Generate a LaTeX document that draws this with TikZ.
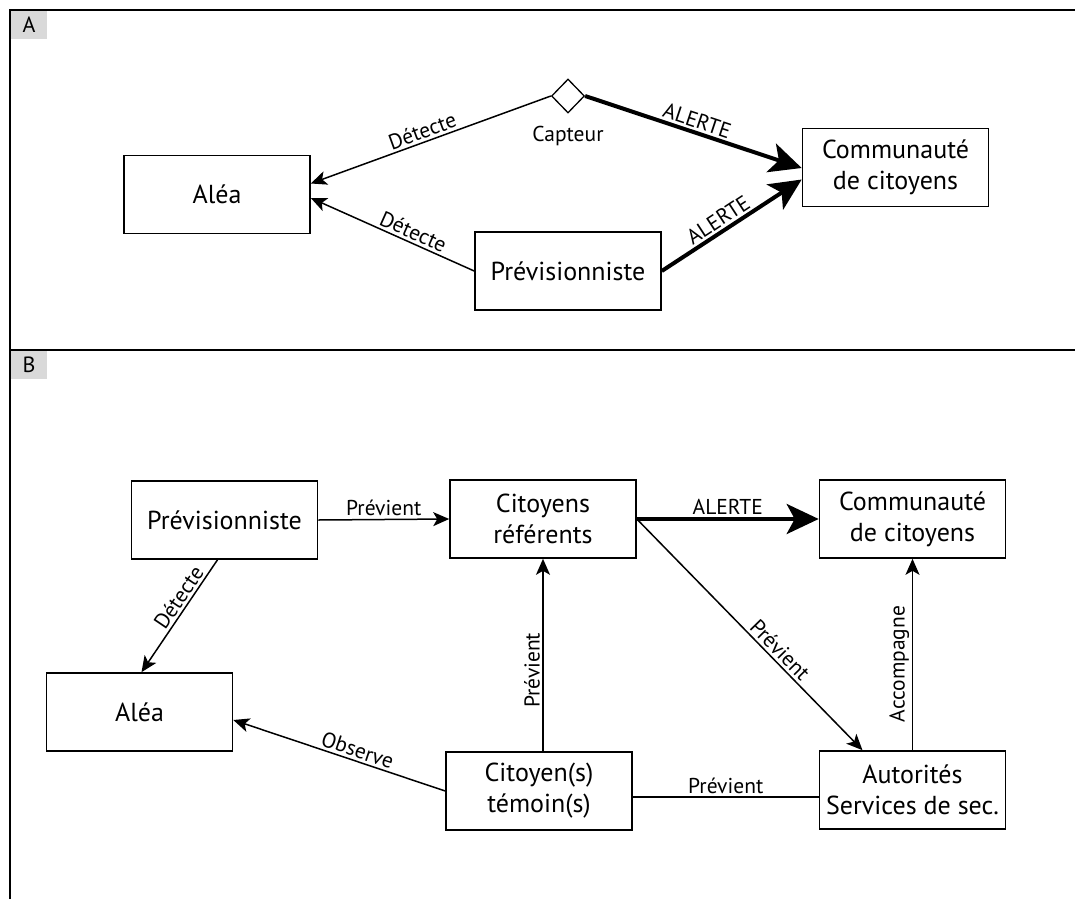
\documentclass[tikz,border=0pt]{standalone}
\usepackage{fontspec}
\setmainfont{PT Sans}
\usetikzlibrary{arrows.meta,shapes.geometric,calc}
\begin{document}
\begin{tikzpicture}[x=1pt,y=-1pt,
 box/.style={draw,line width=1.6pt,minimum width=186pt,minimum height=78pt,inner sep=0pt,align=center,font=\fontsize{26}{31}\selectfont},
 lab/.style={font=\fontsize{21.5}{24}\selectfont,inner sep=2.5pt},
 arr/.style={line width=1.5pt,-{Stealth[length=16pt,width=14pt,inset=4pt]}},
 bigarr/.style={line width=4pt,-{Stealth[length=32pt,width=30pt,inset=8pt]}},
 plainline/.style={line width=1.5pt},
 frameline/.style={line width=2pt},
 tag/.style={fill=black!15,minimum width=36pt,minimum height=28pt,inner sep=0pt,font=\fontsize{22}{24}\selectfont}]
\useasboundingbox (0,0) rectangle (1075,899);

% frame
\draw[frameline] (10,899) -- (10,10) -- (1075,10);
\draw[frameline] (10,350) -- (1075,350);
\node[tag] (tagA) at (29,25) {A};
\node[tag] (tagB) at (29,365) {B};

% Panel A
\node[box] (aleaA) at (217,194.5) {Aléa};
\node[box] (prevA) at (568,271) {Prévisionniste};
\node[box] (commA) at (895.5,167.5) {Communauté\\de citoyens};
\node[draw,diamond,line width=1.3pt,minimum width=33pt,minimum height=34pt,inner sep=0pt] (capt) at (568,96) {};
\node[lab] (captlab) at (568,136) {Capteur};

\draw[arr] (capt.west) -- ($(aleaA.east)+(0,-11)$) node[lab,pos=0.52,sloped,above] {Détecte};
\draw[arr] (prevA.west) -- ($(aleaA.east)+(0,3.5)$) node[lab,pos=0.4,sloped,above] {Détecte};
\draw[bigarr] (capt.east) -- ($(commA.west)+(0,0.5)$) node[lab,pos=0.5,sloped,above] {ALERTE};
\draw[bigarr] (prevA.east) -- ($(commA.west)+(0,12)$) node[lab,pos=0.45,sloped,above] {ALERTE};

% Panel B
\node[box] (prevB) at (224.5,520) {Prévisionniste};
\node[box] (citR) at (543,519) {Citoyens\\référents};
\node[box] (commB) at (912.5,519) {Communauté\\de citoyens};
\node[box] (aleaB) at (139.5,712) {Aléa};
\node[box] (citT) at (539,791) {Citoyen(s)\\témoin(s)};
\node[box] (auto) at (912.5,790) {Autorités\\Services de sec.};

\draw[arr] (prevB.east) -- (citR.west) node[lab,midway,above] {Prévient};
\draw[bigarr] (citR.east) -- (commB.west) node[lab,midway,above] {ALERTE};
\draw[arr] ($(prevB.south)+(-7,0)$) -- ($(aleaB.north)+(2,0)$) node[lab,pos=0.39,sloped,above] {Détecte};
\draw[arr] (citT.west) -- ($(aleaB.east)+(0,8)$) node[lab,pos=0.43,sloped,above] {Observe};
\draw[arr] (citR.south |- citT.north) -- (citR.south) node[lab,pos=0.42,sloped,above] {Prévient};
\draw[arr] (citR.east) -- ($(auto.north)+(-50,0)$) node[lab,pos=0.6,sloped,above] {Prévient};
\draw[arr] (commB.south |- auto.north) -- (commB.south) node[lab,pos=0.45,sloped,above] {Accompagne};
\draw[plainline] ($(citT.east)+(0,6)$) -- ($(auto.west)+(0,7)$) node[lab,midway,above] {Prévient};
\end{tikzpicture}
\end{document}
